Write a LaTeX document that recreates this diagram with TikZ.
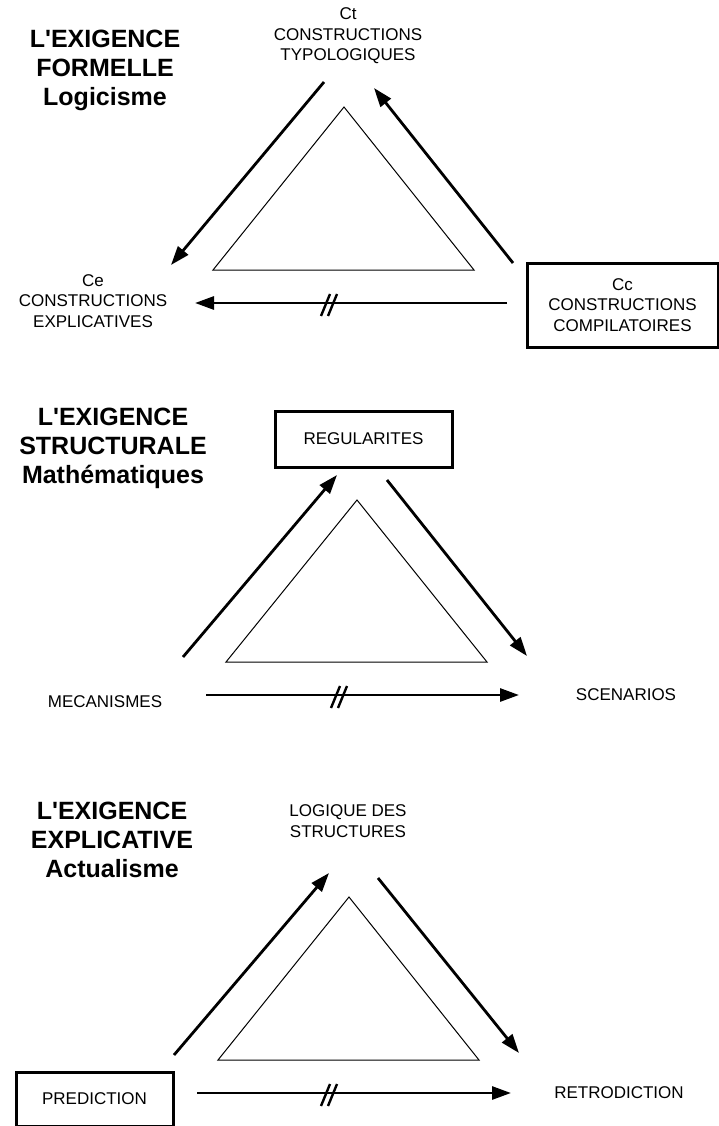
\documentclass[tikz,border=0pt]{standalone}
\usepackage{fontspec}
\setmainfont{Liberation Sans}
\usetikzlibrary{arrows.meta,positioning}

\begin{document}
\begin{tikzpicture}[x=1pt,y=-1pt,>={Triangle[length=19pt,width=13pt]}]
  \tikzstyle{title}=[align=center,font=\fontsize{25}{29}\selectfont\bfseries]
  \tikzstyle{txt}=[align=center,font=\fontsize{17}{20.5}\selectfont]
  \tikzstyle{frame}=[txt,draw,line width=3pt,inner sep=0pt]
  \tikzstyle{flow}=[->,line width=2.8pt]
  \tikzstyle{tri}=[line width=1pt,line join=miter]
  \tikzstyle{slash}=[line width=2.4pt]
  \useasboundingbox (0,0) rectangle (719,1126);

  % L'exigence formelle
  \node [title] (t1) at (105,70) {L\textquotesingle EXIGENCE\\FORMELLE\\Logicisme};
  \node [txt] (ct) at (348,36) {Ct\\CONSTRUCTIONS\\TYPOLOGIQUES};
  \node [txt] (ce) at (93,301) {Ce\\CONSTRUCTIONS\\EXPLICATIVES};
  \node [frame,minimum width=191pt,minimum height=84pt] (cc) at (622.5,305)
        {Cc\\CONSTRUCTIONS\\COMPILATOIRES};
  \draw [tri] (344,107) -- (213,270) -- (474,270) -- cycle;
  \coordinate (ct-out) at (324,82);   \coordinate (ce-in) at (171,265);
  \coordinate (cc-out) at (513,263);  \coordinate (ct-in) at (374,88);
  \coordinate (cc-left) at (507,303); \coordinate (ce-right) at (195,303);
  \coordinate (m1) at (329,305);
  \draw [flow] (ct-out) -- (ce-in);
  \draw [flow] (cc-out) -- (ct-in);
  \draw [flow] (cc-left) -- (ce-right);

  % L'exigence structurale
  \node [title] (t2) at (113,448) {L\textquotesingle EXIGENCE\\STRUCTURALE\\Mathématiques};
  \node [frame,minimum width=177pt,minimum height=56pt] (reg) at (363.5,439) {REGULARITES};
  \node [txt] (mec) at (105,702) {MECANISMES};
  \node [txt] (scen) at (626,695) {SCENARIOS};
  \draw [tri] (357,500) -- (226,662) -- (487,662) -- cycle;
  \coordinate (mec-out) at (183,657);  \coordinate (reg-in) at (337,475);
  \coordinate (reg-out) at (387,480);  \coordinate (scen-in) at (527,656);
  \coordinate (mec-right) at (206,695); \coordinate (scen-left) at (519,695);
  \coordinate (m2) at (339,697);
  \draw [flow] (mec-out) -- (reg-in);
  \draw [flow] (reg-out) -- (scen-in);
  \draw [flow] (mec-right) -- (scen-left);

  % L'exigence explicative
  \node [title] (t3) at (112,840) {L\textquotesingle EXIGENCE\\EXPLICATIVE\\Actualisme};
  \node [txt] (logs) at (348,821) {LOGIQUE DES\\STRUCTURES};
  \node [frame,minimum width=157pt,minimum height=54pt] (pred) at (94.5,1099) {PREDICTION};
  \node [txt] (retro) at (619,1093) {RETRODICTION};
  \draw [tri] (349,897) -- (218,1060) -- (479,1060) -- cycle;
  \coordinate (pred-out) at (174,1055); \coordinate (logs-in) at (329,873);
  \coordinate (logs-out) at (378,878);  \coordinate (retro-in) at (519,1053);
  \coordinate (pred-right) at (197,1093); \coordinate (retro-left) at (511,1093);
  \coordinate (m3) at (329,1095);
  \draw [flow] (pred-out) -- (logs-in);
  \draw [flow] (logs-out) -- (retro-in);
  \draw [flow] (pred-right) -- (retro-left);

  % coupures
  \foreach \m in {m1,m2,m3}
    \draw [slash] (\m) ++(-8,11) -- ++(9,-22) (\m) ++(-1,11) -- ++(9,-22);
\end{tikzpicture}
\end{document}
